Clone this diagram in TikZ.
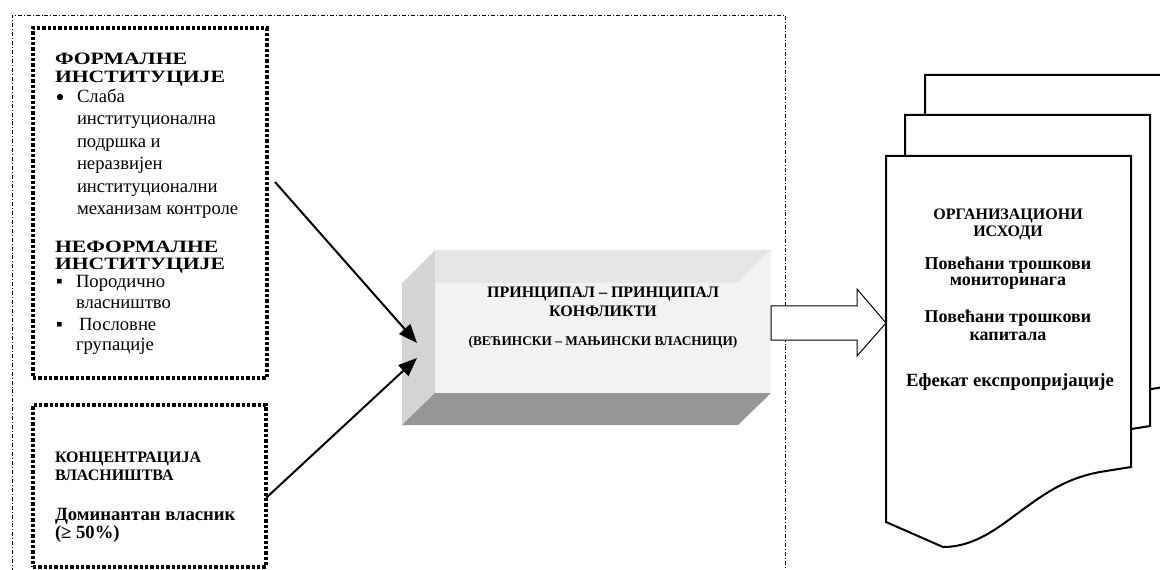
\documentclass[tikz,border=0pt]{standalone}
\usepackage{fontspec}
\setmainfont{Liberation Serif}
\newfontfamily\wideserif{Liberation Serif}[FakeStretch=1.25]
\usetikzlibrary{arrows.meta,fit}
\definecolor{bevelleft}{RGB}{212,212,212}
\definecolor{beveltop}{RGB}{230,230,230}
\definecolor{bevelface}{RGB}{242,242,242}
\definecolor{bevelbottom}{RGB}{150,150,150}
\begin{document}
\begin{tikzpicture}[x=0.75pt,y=-0.75pt,
  lbl/.style={inner sep=0pt,outer sep=0pt},
  bighead/.style={lbl,anchor=base west,font=\wideserif\fontsize{13}{15}\selectfont\bfseries},
  head/.style={lbl,anchor=base west,font=\fontsize{12}{14}\selectfont\bfseries},
  body/.style={lbl,anchor=base west,font=\fontsize{14}{16}\selectfont},
  roundbullet/.style={circle,fill,inner sep=0pt,minimum size=4.8pt},
  bodybold/.style={lbl,anchor=base west,font=\fontsize{14}{16}\selectfont\bfseries},
  ctitle/.style={lbl,anchor=base,font=\fontsize{12}{14}\selectfont\bfseries},
  csub/.style={lbl,anchor=base,font=\fontsize{10}{12}\selectfont\bfseries},
  dochead/.style={lbl,anchor=base,font=\fontsize{12}{14}\selectfont\bfseries},
  docitem/.style={lbl,anchor=base,font=\fontsize{13.5}{15}\selectfont\bfseries},
  frame/.style={line width=0.7pt,dash pattern=on 3pt off 1.5pt on 0.7pt off 1.5pt},
  dotbox/.style={draw,line width=2.6pt,dash pattern=on 2.4pt off 1.6pt,inner sep=0pt},
  conn/.style={line width=1.5pt,-{Triangle[length=14pt,width=11pt]}},
  docline/.style={draw,line width=1.5pt,fill=white,line join=miter},
  blockarrow/.style={draw,line width=0.75pt,fill=white}
]
\useasboundingbox (0,0) rectangle (1160,570);
\clip (0,0) rectangle (1160,570);

% outer dash-dot frame
\draw[frame] (12,590) -- (12,15) -- (785,15) -- (785,590);

% dotted boxes
\node[dotbox,fit={(33,28) (267,378)}] (formal) {};
\node[dotbox,fit={(33,405) (266,567)}] (conc) {};

% text of the first box
\node[bighead] (h1a) at (55,65) {ФОРМАЛНЕ};
\node[bighead] (h1b) at (55,83) {ИНСТИТУЦИЈЕ};
\node[roundbullet] (b1) at (60,97) {};
\node[body] (t1) at (77,103) {Слаба};
\node[body] (t2) at (77,125) {институционална};
\node[body] (t3) at (77,148) {подршка и};
\node[body] (t4) at (77,170) {неразвијен};
\node[body] (t5) at (77,193) {институционални};
\node[body] (t6) at (77,215) {механизам контроле};
\node[bighead] (h2a) at (55,253) {НЕФОРМАЛНЕ};
\node[bighead] (h2b) at (55,270) {ИНСТИТУЦИЈЕ};
\node[body] (b2) at (56,288) {▪};
\node[body] (t7) at (76,288) {Породично};
\node[body] (t8) at (76,309) {власништво};
\node[body] (b3) at (56,330) {▪};
\node[body] (t9) at (79,330) {Пословне};
\node[body] (t10) at (76,350) {групације};

% text of the second box
\node[head] (h3a) at (55,462) {КОНЦЕНТРАЦИЈА};
\node[head] (h3b) at (55,480) {ВЛАСНИШТВА};
\node[bodybold] (t11) at (55,520) {Доминантан власник};
\node[bodybold] (t12) at (55,538) {(≥ 50\%)};

% bevelled box in the middle
\fill[bevelleft] (402,283) -- (435,250) -- (435,393) -- (402,425) -- cycle;
\fill[beveltop] (435,250) -- (771,250) -- (738,283) -- (435,283) -- cycle;
\fill[bevelface] (435,283) -- (738,283) -- (771,250) -- (771,393) -- (435,393) -- cycle;
\fill[bevelbottom] (435,393) -- (771,393) -- (738,425) -- (402,425) -- cycle;
\node[lbl,fit={(402,250) (771,425)}] (conflict) {};
\node[ctitle] (c1) at (603,297) {ПРИНЦИПАЛ – ПРИНЦИПАЛ};
\node[ctitle] (c2) at (603,316) {КОНФЛИКТИ};
\node[csub] (c3) at (603,345) {(ВЕЋИНСКИ – МАЊИНСКИ ВЛАСНИЦИ)};

% connectors into the bevelled box
\coordinate (s1) at (275,182);
\coordinate (e1) at (417,343);
\coordinate (s2) at (266,498);
\coordinate (e2) at (417,358);
\draw[conn] (s1) -- (e1);
\draw[conn] (s2) -- (e2);

% block arrow towards the documents
\draw[blockarrow] (771,306) -- (857,306) -- (857,289) -- (886,323) -- (857,356) -- (857,340) -- (771,340) -- cycle;

% stacked documents
\foreach \dx/\dy in {39/-81, 19/-41, 0/0}{
  \path[docline,shift={(\dx,\dy)}] (886,156) -- (1131,156) -- (1131,467) -- (1100,472)
    .. controls (1062,479) and (1040,497) .. (1010,519)
    .. controls (986,537) and (966,547) .. (943,547)
    -- (886,522) -- cycle;
}
\node[lbl,fit={(886,156) (1131,547)}] (outcomes) {};
\node[dochead] (d1) at (1008,220) {ОРГАНИЗАЦИОНИ};
\node[dochead] (d2) at (1008,237) {ИСХОДИ};
\node[docitem] (d3) at (1008,270) {Повећани трошкови};
\node[docitem] (d4) at (1008,286) {мониторинага};
\node[docitem] (d5) at (1008,323) {Повећани трошкови};
\node[docitem] (d6) at (1008,340) {капитала};
\node[docitem,font=\fontsize{14}{15}\selectfont\bfseries] (d7) at (1010,386) {Ефекат експропријације};
\end{tikzpicture}
\end{document}
